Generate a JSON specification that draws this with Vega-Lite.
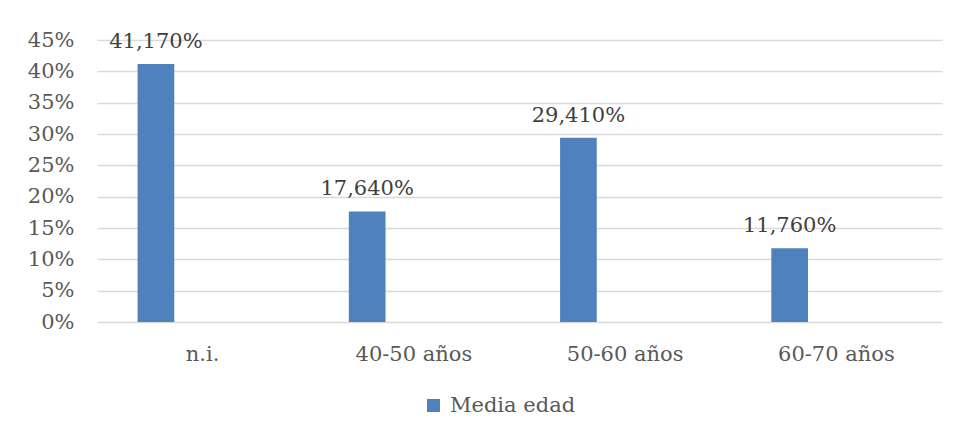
{
  "$schema": "https://vega.github.io/schema/vega-lite/v6.json",
  "autosize": {"type": "none"},
  "width": 845,
  "height": 282,
  "padding": {"left": 97, "top": 40, "right": 18, "bottom": 113},
  "background": "white",
  "config": {
    "locale": {"number": {"decimal": ",", "thousands": ".", "grouping": [3], "currency": ["", " €"]}},
    "view": {"stroke": null},
    "font": "DejaVu Serif"
  },
  "data": {
    "values": [
      {"grupo": "n.i.", "serie": "Media edad", "valor": 0.4117},
      {"grupo": "40-50 años", "serie": "Media edad", "valor": 0.1764},
      {"grupo": "50-60 años", "serie": "Media edad", "valor": 0.2941},
      {"grupo": "60-70 años", "serie": "Media edad", "valor": 0.1176}
    ]
  },
  "encoding": {
    "x": {
      "field": "grupo",
      "type": "nominal",
      "sort": null,
      "scale": {"paddingInner": 0, "paddingOuter": 0},
      "axis": {
        "title": null,
        "domain": false,
        "ticks": false,
        "labelAngle": 0,
        "labelPadding": 21,
        "labelFont": "DejaVu Serif",
        "labelFontSize": 21,
        "labelColor": "#595959"
      }
    },
    "y": {
      "field": "valor",
      "type": "quantitative",
      "scale": {"domain": [0, 0.45], "nice": false},
      "axis": {
        "title": null,
        "values": [0, 0.05, 0.1, 0.15, 0.2, 0.25, 0.3, 0.35, 0.4, 0.45],
        "format": ".0%",
        "domain": false,
        "ticks": false,
        "labelPadding": 23,
        "labelFont": "DejaVu Serif",
        "labelFontSize": 21,
        "labelColor": "#595959",
        "gridColor": "#d9d9d9",
        "gridWidth": 1.4
      }
    }
  },
  "layer": [
    {
      "mark": {"type": "bar", "width": {"band": 0.1737}, "xOffset": -46.7},
      "encoding": {
        "color": {
          "field": "serie",
          "type": "nominal",
          "scale": {"range": ["#4f81bd"]},
          "legend": {
            "title": null,
            "orient": "none",
            "legendX": 326,
            "legendY": 355,
            "padding": 0,
            "symbolType": "square",
            "symbolSize": 169,
            "symbolStrokeWidth": 0,
            "labelFont": "DejaVu Serif",
            "labelFontSize": 21,
            "labelColor": "#595959",
            "labelOffset": 6
          }
        }
      }
    },
    {
      "mark": {
        "type": "text",
        "xOffset": -46.7,
        "baseline": "alphabetic",
        "dy": -16,
        "font": "DejaVu Serif",
        "fontSize": 21,
        "color": "#404040"
      },
      "encoding": {
        "text": {"field": "valor", "type": "quantitative", "format": ".3%"}
      }
    }
  ]
}
